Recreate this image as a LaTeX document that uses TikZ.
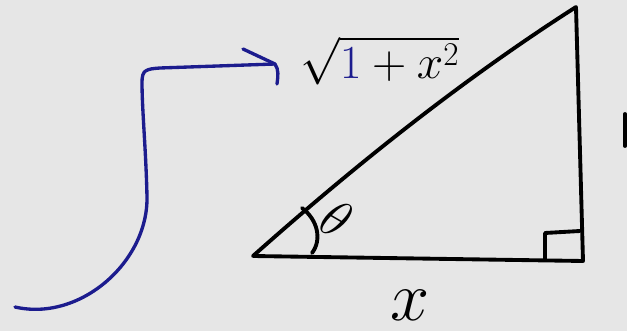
\RequirePackage{fix-cm}
\documentclass[tikz,border=0pt]{standalone}
\definecolor{bg}{HTML}{E6E6E6}
\definecolor{arrowblue}{HTML}{1C1C8E}
\begin{document}
\begin{tikzpicture}[x=0.02cm,y=-0.02cm,
  ink/.style={draw=black,line width=2.2pt,line cap=round,line join=round},
  blueink/.style={draw=arrowblue,line width=1.9pt,line cap=round,line join=round},
  lbl/.style={inner sep=0pt,text=black}]
\fill[bg] (0,0) rectangle (627,331);
\useasboundingbox (0,0) rectangle (627,331);
% triangle vertices
\coordinate (A) at (253,256);
\coordinate (B) at (583,261);
\coordinate (C) at (576,7);
\draw[ink] (A) -- (B) -- (C) .. controls (468,76) and (361,160) .. (A);
% right angle mark
\coordinate (R1) at (545,259);
\coordinate (R2) at (545,233);
\coordinate (R3) at (580,231);
\draw[ink] (R1) -- (R2) -- (R3);
% angle arc
\coordinate (T1) at (302,208);
\coordinate (T2) at (312,253);
\draw[ink] (T1) .. controls (318,220) and (322,240) .. (T2);
\node[lbl,rotate=-30,font=\fontsize{30}{34}\selectfont] (theta) at (337,219) {$\theta$};
% labels
\node[lbl,font=\fontsize{40}{46}\selectfont] (xl) at (410,305) {$x$};
\node[lbl,font=\fontsize{27}{32}\selectfont,anchor=base west] (hyp) at (300,79) {$\sqrt{{\color{arrowblue}1}+x^2}$};
% blue arrow
\coordinate (S) at (15,307);
\coordinate (M) at (147,197);
\coordinate (K) at (142,82);
\coordinate (E) at (275,64);
\coordinate (H1) at (243,49);
\coordinate (H2) at (277,84);
\draw[blueink] (S) .. controls (80,322) and (148,262) .. (M)
  .. controls (146,150) and (142,110) .. (K)
  .. controls (142,70) and (146,69) .. (160,68) -- (E);
\draw[blueink] (H1) -- (E) .. controls (279,70) and (278,76) .. (H2);
% edge mark
\coordinate (Z1) at (625,114);
\coordinate (Z2) at (625,146);
\draw[ink] (Z1) -- (Z2);
\end{tikzpicture}
\end{document}
